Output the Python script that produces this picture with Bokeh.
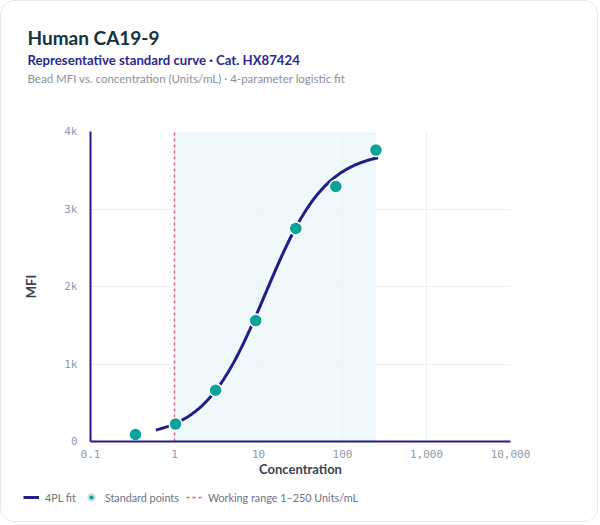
import numpy as np
from bokeh.plotting import figure
from bokeh.layouts import column
from bokeh.models import (BoxAnnotation, Label, Legend, LegendItem, FixedTicker, Range1d)
from bokeh.embed import file_html
from bokeh.resources import INLINE

# ---- data ----
std_conc = [0.343, 1.03, 3.09, 9.26, 27.8, 83.3, 250.0]
std_mfi = [90, 225, 662, 1560, 2750, 3290, 3760]

# 4PL fit parameters: y = D + (A - D) / (1 + (x / C) ** B)
fit_A = 50.0
fit_B = 1.2
fit_C = 12.0
fit_D = 3750.0
fit_x_min = 0.6
fit_x_max = 265.0

working_range = [1, 250]

x_ticks = [0.1, 1, 10, 100, 1000, 10000]
x_tick_labels = ["0.1", "1", "10", "100", "1,000", "10,000"]
y_ticks = [0, 1000, 2000, 3000, 4000]
y_tick_labels = ["0", "1k", "2k", "3k", "4k"]
x_lim = [0.1, 10000]
y_lim = [0, 4000]

title_text = "Human CA19-9"
subtitle_text = "Representative standard curve \u00b7 Cat. HX87424"
note_text = "Bead MFI vs. concentration (Units/mL) \u00b7 4-parameter logistic fit"
legend_labels = ["4PL fit", "Standard points", "Working range 1\u2013250 Units/mL"]

# ---- styles ----
NAVY = "#1f1d8a"
TEAL = "#0aa39b"
RED = "#e4606a"
FONT = "Lato"
MONO = "DejaVu Sans Mono"
W = 596
HEAD_H = 119
CHART_H = 361
LEG_H = 40

fit_x = np.logspace(np.log10(fit_x_min), np.log10(fit_x_max), 200)
fit_y = fit_D + (fit_A - fit_D) / (1 + (fit_x / fit_C) ** fit_B)


def strip(height):
    f = figure(width=W, height=height, x_range=Range1d(-2, -1), y_range=Range1d(-2, -1),
               x_axis_location=None, y_axis_location=None,
               output_backend="svg", toolbar_location=None,
               min_border_left=0, min_border_right=0, min_border_top=0, min_border_bottom=0)
    f.title = None
    f.grid.visible = False
    f.outline_line_color = None
    f.border_fill_color = "white"
    f.background_fill_color = "white"
    f.frame_align = False
    return f


# ---- header ----
head = strip(HEAD_H)
head.add_layout(Label(x=26, y=HEAD_H - 36, x_units="screen", y_units="screen", text=title_text,
                      text_font=FONT, text_font_style="bold", text_font_size="19px",
                      text_color="#0f3440", text_baseline="middle"))
head.add_layout(Label(x=26, y=HEAD_H - 58, x_units="screen", y_units="screen", text=subtitle_text,
                      text_font=FONT, text_font_style="bold", text_font_size="13.2px",
                      text_color="#2a2890", text_baseline="middle"))
head.add_layout(Label(x=26, y=HEAD_H - 77, x_units="screen", y_units="screen", text=note_text,
                      text_font=FONT, text_font_size="11.5px",
                      text_color="#8c909c", text_baseline="middle"))

# ---- chart ----
chart = figure(width=W, height=CHART_H, x_axis_type="log",
               x_range=Range1d(*x_lim), y_range=Range1d(*y_lim),
               output_backend="svg", toolbar_location=None,
               min_border_left=89, min_border_right=87,
               min_border_top=11, min_border_bottom=40)
chart.title = None
chart.outline_line_color = None
chart.background_fill_color = "white"
chart.border_fill_color = "white"
chart.frame_align = False

band = BoxAnnotation(left=working_range[0], right=working_range[1],
                     fill_color="#eaf6f8", fill_alpha=0.75, line_color=None,
                     level="underlay")
chart.add_layout(band)

chart.xgrid.grid_line_color = "#eceef3"
chart.ygrid.grid_line_color = "#eceef3"
chart.xgrid.ticker = FixedTicker(ticks=x_ticks)
chart.ygrid.ticker = FixedTicker(ticks=y_ticks)

line_style = dict(line_color=RED, line_width=1.5, line_dash="3 3", line_alpha=1.0)
chart.segment(x0=[working_range[0]], y0=[y_lim[0]], x1=[working_range[0]], y1=[y_lim[1]],
              **line_style)
fit_style = dict(line_color=NAVY, line_width=3)
chart.line(fit_x, fit_y, **fit_style)
pt_style = dict(size=13, fill_color=TEAL, line_color="white", line_width=1.5)
chart.scatter(std_conc, std_mfi, **pt_style)

for ax in (chart.xaxis[0], chart.yaxis[0]):
    ax.axis_line_color = NAVY
    ax.axis_line_width = 2
    ax.major_tick_line_color = None
    ax.minor_tick_line_color = None
    ax.major_label_text_font = MONO
    ax.major_label_text_font_size = "11px"
    ax.major_label_text_color = "#9297ab"
    ax.axis_label_text_font = FONT
    ax.axis_label_text_font_style = "bold"
    ax.axis_label_text_font_size = "13px"
    ax.axis_label_text_color = "#3c4154"

chart.xaxis.ticker = FixedTicker(ticks=x_ticks)
chart.xaxis.major_label_overrides = dict(zip(x_ticks, x_tick_labels))
chart.yaxis.ticker = FixedTicker(ticks=y_ticks)
chart.yaxis.major_label_overrides = dict(zip(y_ticks, y_tick_labels))
chart.xaxis.axis_label = "Concentration"
chart.yaxis.axis_label = "MFI"
chart.xaxis.major_label_standoff = 2
chart.yaxis.major_label_standoff = 7
chart.xaxis.axis_label_standoff = 0
chart.yaxis.axis_label_standoff = 22

# ---- legend strip (proxies sit outside the strip's visible range) ----
leg = strip(LEG_H)
r_fit = leg.line(fit_x, fit_y, **fit_style)
r_pts = leg.scatter(std_conc, std_mfi, size=13, fill_color=TEAL, line_color="#d6dbe3",
                    line_width=2.2)
r_wr = leg.segment(x0=[working_range[0]], y0=[y_lim[0]], x1=[working_range[0]], y1=[y_lim[1]],
                   **line_style)
legend = Legend(items=[LegendItem(label=legend_labels[0], renderers=[r_fit]),
                       LegendItem(label=legend_labels[1], renderers=[r_pts]),
                       LegendItem(label=legend_labels[2], renderers=[r_wr])],
                location=(22, 15), orientation="horizontal",
                padding=0, margin=0, spacing=7, label_standoff=6,
                glyph_width=16, glyph_height=18, label_height=16,
                label_text_font=FONT, label_text_font_size="10.8px",
                label_text_color="#6e7282", background_fill_alpha=0,
                border_line_color=None)
leg.add_layout(legend, "center")

p = column(head, chart, leg, spacing=0)
p.styles = {"border": "1px solid #e4e6ec", "border-radius": "14px", "overflow": "hidden"}

open("out.html", "w").write(file_html(p, INLINE))
